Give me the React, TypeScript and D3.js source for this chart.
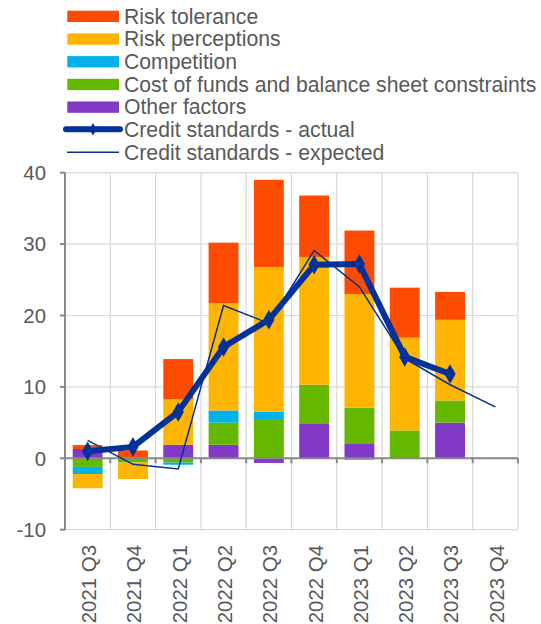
import React from "react";
import * as d3 from "d3";

const categories = ["2021 Q3", "2021 Q4", "2022 Q1", "2022 Q2", "2022 Q3", "2022 Q4", "2023 Q1", "2023 Q2", "2023 Q3", "2023 Q4"];
const riskTolerance = [0.55, 1.1, 5.6, 8.5, 12.2, 8.6, 8.9, 7.0, 3.9, 0];
const riskPerceptions = [-2.0, -2.3, 6.4, 15.0, 20.3, 17.9, 15.9, 13.0, 11.3, 0];
const competition = [-1.0, 0, -0.3, 1.7, 1.0, 0, -0.2, 0, 0, 0];
const costOfFunds = [-1.2, -0.6, -0.6, 3.1, 5.5, 5.5, 5.0, 3.9, 3.1, 0];
const otherFactors = [1.3, 0, 1.9, 1.9, -0.65, 4.8, 2.1, 0, 5.0, 0];
const actual: (number | null)[] = [1.0, 1.6, 6.5, 15.6, 19.4, 27.1, 27.2, 14.2, 11.8, null];
const expected = [2.5, -0.85, -1.5, 21.4, 18.9, 29.1, 24.0, 14.0, 10.3, 7.2];
const yTicks = [-10, 0, 10, 20, 30, 40];

const seriesKeys = ["otherFactors", "costOfFunds", "competition", "riskPerceptions", "riskTolerance"];
const seriesData: Record<string, number[]> = { otherFactors, costOfFunds, competition, riskPerceptions, riskTolerance };
const colors: Record<string, string> = {
  riskTolerance: "#FF4B00",
  riskPerceptions: "#FFB400",
  competition: "#00B1EA",
  costOfFunds: "#65B800",
  otherFactors: "#8139C6",
};
const legendItems = [
  { key: "riskTolerance", label: "Risk tolerance" },
  { key: "riskPerceptions", label: "Risk perceptions" },
  { key: "competition", label: "Competition" },
  { key: "costOfFunds", label: "Cost of funds and balance sheet constraints" },
  { key: "otherFactors", label: "Other factors" },
];

const W = 541, H = 624;
const left = 65, right = 518, top = 172.7, bottom = 529.7;
const font = "'Liberation Sans', Arial, sans-serif";
const textColor = "#595959";
const lineColor = "#003299";

export default function App() {
  const x = d3.scaleBand<string>().domain(categories).range([left, right]).paddingInner(0).paddingOuter(0);
  const y = d3.scaleLinear().domain([-10, 40]).range([bottom, top]);
  const bw = x.bandwidth() * 0.66;

  const table = categories.map((c, i) => {
    const row: any = { cat: c };
    seriesKeys.forEach((k) => (row[k] = seriesData[k][i]));
    return row;
  });
  const stacked = d3.stack<any>().keys(seriesKeys).offset(d3.stackOffsetDiverging)(table);

  const cx = (c: string) => (x(c) as number) + x.bandwidth() / 2;
  const actualLine = d3
    .line<number | null>()
    .defined((d) => d !== null)
    .x((_, i) => cx(categories[i]))
    .y((d) => y(d as number));
  const expectedLine = d3
    .line<number>()
    .x((_, i) => cx(categories[i]))
    .y((d) => y(d));

  const diamond = d3.symbol().type(d3.symbolDiamond).size(110)();

  return (
    <svg width={W} height={H} style={{ position: "absolute", left: 0, top: 0, background: "#fff" }} fontFamily={font}>
      {/* legend */}
      {legendItems.map((it, i) => {
        const cy = 16.3 + i * 22.7;
        return (
          <g key={it.key}>
            <rect x={67.3} y={cy - 5.6} width={51.7} height={11.3} fill={colors[it.key]} />
            <text x={124} y={cy + 7.3} fontSize={21.2} fill={textColor}>{it.label}</text>
          </g>
        );
      })}
      <g>
        <line x1={66} x2={120} y1={129.3} y2={129.3} stroke={lineColor} strokeWidth={6} strokeLinecap="round" />
        <path d={d3.symbol().type(d3.symbolDiamond).size(45)() as string} transform="translate(93,129.3)" fill={lineColor} />
        <text x={124} y={129.3 + 7.3} fontSize={21.2} fill={textColor}>Credit standards - actual</text>
        <line x1={67} x2={119} y1={152.3} y2={152.3} stroke={lineColor} strokeWidth={1.5} />
        <text x={124} y={152.3 + 7.3} fontSize={21.2} fill={textColor}>Credit standards - expected</text>
      </g>

      {/* grid */}
      {yTicks.map((t) => (
        <line key={"h" + t} x1={left} x2={right} y1={y(t)} y2={y(t)} stroke="#d9d9d9" strokeWidth={1.2} />
      ))}
      {categories.map((c) => (
        <line key={"v" + c} x1={(x(c) as number) + x.bandwidth()} x2={(x(c) as number) + x.bandwidth()} y1={top} y2={bottom} stroke="#d9d9d9" strokeWidth={1.2} />
      ))}

      {/* bars */}
      {stacked.map((s) => (
        <g key={s.key} fill={colors[s.key]}>
          {s.map((d, i) => {
            const h = Math.abs(y(d[0]) - y(d[1]));
            if (h < 0.01) return null;
            return (
              <rect key={i} x={cx(categories[i]) - bw / 2} width={bw} y={Math.min(y(d[0]), y(d[1]))} height={h} />
            );
          })}
        </g>
      ))}

      {/* axes */}
      <line x1={left} x2={left} y1={top} y2={bottom} stroke="#898989" strokeWidth={2} />
      {yTicks.map((t) => (
        <g key={"yt" + t}>
          <line x1={left - 5} x2={left} y1={y(t)} y2={y(t)} stroke="#898989" strokeWidth={2} />
          <text x={46} y={y(t)} dy="0.36em" textAnchor="end" fontSize={20.4} fill={textColor}>{t}</text>
        </g>
      ))}
      <line x1={left} x2={right} y1={y(0)} y2={y(0)} stroke="#898989" strokeWidth={2} />
      {categories.map((c) => (
        <line key={"xt" + c} x1={(x(c) as number) + x.bandwidth()} x2={(x(c) as number) + x.bandwidth()} y1={y(0)} y2={y(0) + 5} stroke="#898989" strokeWidth={2} />
      ))}
      {categories.map((c) => (
        <text key={"xl" + c} transform={`translate(${cx(c) + 1},545) rotate(-90)`} textAnchor="end" dy="0.36em" fontSize={20.4} fill={textColor}>{c}</text>
      ))}

      {/* lines */}
      <path d={expectedLine(expected) as string} fill="none" stroke={lineColor} strokeWidth={1.5} />
      <path d={actualLine(actual) as string} fill="none" stroke={lineColor} strokeWidth={6} strokeLinejoin="round" />
      {actual.map((v, i) =>
        v === null ? null : (
          <path key={"m" + i} d={diamond as string} transform={`translate(${cx(categories[i])},${y(v)})`} fill={lineColor} />
        )
      )}
    </svg>
  );
}
